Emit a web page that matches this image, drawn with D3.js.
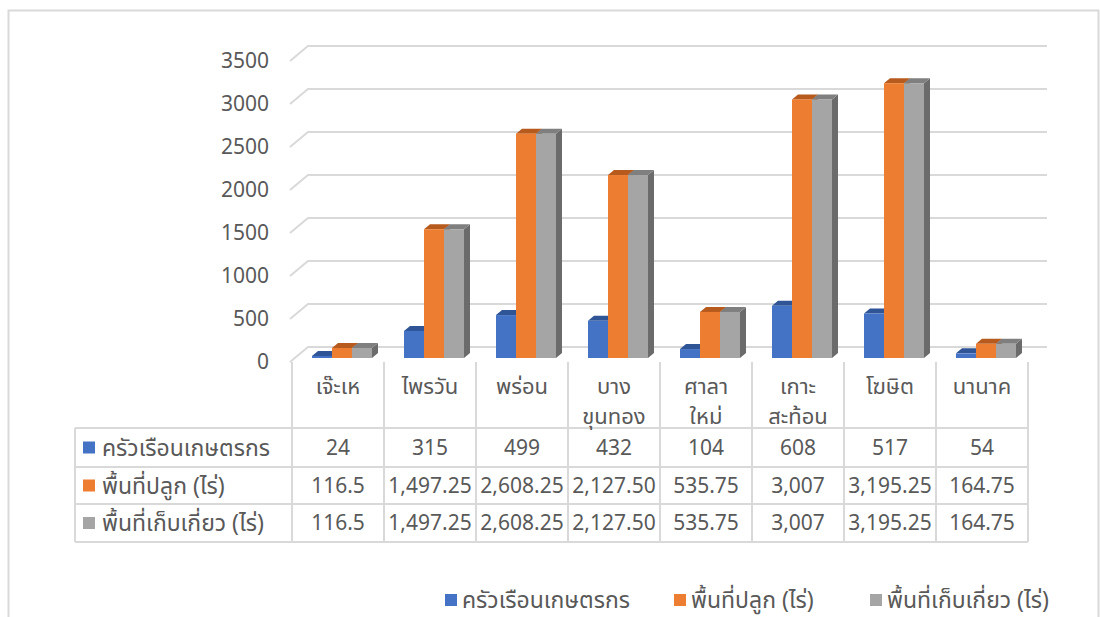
<!DOCTYPE html>
<html>
<head>
<meta charset="utf-8">
<script src="https://cdn.jsdelivr.net/npm/d3@7"></script>
<style>
  body { margin: 0; background: #fff; }
  svg text { font-family: "Noto Sans Thai", "Leelawadee UI", Tahoma, "Noto Sans", sans-serif; fill: #595959; }
</style>
</head>
<body>
<div id="chart"></div>
<script>
// categories (each label may have two lines)
var categories = ["เจ๊ะเห", "ไพรวัน", "พร่อน", "บาง\nขุนทอง", "ศาลา\nใหม่", "เกาะ\nสะท้อน", "โฆษิต", "นานาค"];
var seriesNames = ["ครัวเรือนเกษตรกร", "พื้นที่ปลูก (ไร่)", "พื้นที่เก็บเกี่ยว (ไร่)"];
var households = [24, 315, 499, 432, 104, 608, 517, 54];
var planted = [116.5, 1497.25, 2608.25, 2127.5, 535.75, 3007, 3195.25, 164.75];
var harvested = [116.5, 1497.25, 2608.25, 2127.5, 535.75, 3007, 3195.25, 164.75];
// table cells as they are written in the sheet
var householdsText = ["24", "315", "499", "432", "104", "608", "517", "54"];
var plantedText = ["116.5", "1,497.25", "2,608.25", "2,127.50", "535.75", "3,007", "3,195.25", "164.75"];
var harvestedText = ["116.5", "1,497.25", "2,608.25", "2,127.50", "535.75", "3,007", "3,195.25", "164.75"];
var yTicks = [0, 500, 1000, 1500, 2000, 2500, 3000, 3500];

var colors = ["#4472C4", "#ED7D31", "#A5A5A5"];
var topColors = ["#2F5597", "#B65A1E", "#7F7F7F"];
var sideColors = ["#2A4B87", "#A3501A", "#6B6B6B"];

var width = 1100, height = 617;
var values = [households, planted, harvested];
var texts = [householdsText, plantedText, harvestedText];

var svg = d3.select("#chart").append("svg")
    .attr("width", width)
    .attr("height", height);

// outer frame
svg.append("rect")
    .attr("x", 8.5).attr("y", 10.5)
    .attr("width", 1090).attr("height", 640)
    .attr("fill", "none")
    .attr("stroke", "#D9D9D9")
    .attr("stroke-width", 2);

var x = d3.scaleBand().domain(categories).range([292, 1028]);
var xs = d3.scaleBand().domain([0, 1, 2]).range([16, 76]);
var y = d3.scaleLinear().domain([0, 3500]).range([362, 61]);

// 3d offsets
var wall = {dx: 18, dy: -15},   // back wall
    plane = {dx: 4, dy: -4},    // where the bar front sits
    depth = {dx: 6, dy: -5};    // bar thickness

// gridlines on the back wall with floor/side diagonals
var grid = svg.append("g").attr("class", "grid");
grid.selectAll("path")
  .data(yTicks).enter()
  .append("path")
    .attr("d", function(d) {
      var yy = y(d);
      return "M290," + yy + "L" + (290 + wall.dx) + "," + (yy + wall.dy) + "L1047," + (yy + wall.dy);
    })
    .attr("fill", "none")
    .attr("stroke", "#D9D9D9")
    .attr("stroke-width", 2);

svg.append("g").attr("class", "axis y")
  .selectAll("text")
  .data(yTicks).enter()
  .append("text")
    .attr("x", 269)
    .attr("y", function(d) { return y(d); })
    .attr("dy", "0.35em")
    .attr("text-anchor", "end")
    .style("font-size", "21px")
    .text(function(d) { return d; });

// bars
var bars = [];
categories.forEach(function(c, i) {
  values.forEach(function(s, k) {
    bars.push({cat: c, k: k, value: s[i]});
  });
});

var bar = svg.append("g").attr("class", "bars")
  .selectAll("g")
  .data(bars).enter()
  .append("g");

bar.each(function(d) {
  var g = d3.select(this);
  var x0 = x(d.cat) + xs(d.k) + plane.dx,
      x1 = x0 + xs.bandwidth(),
      yb = y(0) + plane.dy,
      yt = y(d.value) + plane.dy;
  // side face
  g.append("path")
    .attr("d", "M" + x1 + "," + yb + "L" + (x1 + depth.dx) + "," + (yb + depth.dy) +
      "L" + (x1 + depth.dx) + "," + (yt + depth.dy) + "L" + x1 + "," + yt + "Z")
    .attr("fill", sideColors[d.k]);
  // top face
  g.append("path")
    .attr("d", "M" + x0 + "," + yt + "L" + (x0 + depth.dx) + "," + (yt + depth.dy) +
      "L" + (x1 + depth.dx) + "," + (yt + depth.dy) + "L" + x1 + "," + yt + "Z")
    .attr("fill", topColors[d.k]);
  // front face
  g.append("rect")
    .attr("x", x0).attr("y", yt)
    .attr("width", xs.bandwidth())
    .attr("height", yb - yt)
    .attr("fill", colors[d.k]);
});

// data table
var rowY = [428, 467, 504, 542];
var table = svg.append("g").attr("class", "table");
var lineColor = "#D9D9D9";

table.selectAll("line.v")
  .data(categories.map(function(c) { return x(c); }).concat([1028])).enter()
  .append("line")
    .attr("class", "v")
    .attr("x1", function(d) { return d; }).attr("x2", function(d) { return d; })
    .attr("y1", 362).attr("y2", 542)
    .attr("stroke", lineColor).attr("stroke-width", 2);
table.append("line")
    .attr("x1", 75).attr("x2", 75).attr("y1", 428).attr("y2", 542)
    .attr("stroke", lineColor).attr("stroke-width", 2);
table.selectAll("line.h")
  .data(rowY).enter()
  .append("line")
    .attr("class", "h")
    .attr("x1", 75).attr("x2", 1028)
    .attr("y1", function(d) { return d; }).attr("y2", function(d) { return d; })
    .attr("stroke", lineColor).attr("stroke-width", 2);

// category header
table.selectAll("text.cat")
  .data(categories).enter()
  .append("text")
    .attr("class", "cat")
    .attr("text-anchor", "middle")
    .style("font-size", "22px")
    .each(function(d) {
      var lines = d.split("\n");
      var t = d3.select(this);
      lines.forEach(function(l, j) {
        t.append("tspan")
          .attr("x", x(d) + x.bandwidth() / 2)
          .attr("y", 386 + j * 30)
          .attr("dy", "0.35em")
          .text(l);
      });
    });

// rows
values.forEach(function(s, k) {
  var cy = (rowY[k] + rowY[k + 1]) / 2;
  var row = table.append("g").attr("class", "row");
  row.append("rect")
    .attr("x", 83).attr("y", cy - 6)
    .attr("width", 12).attr("height", 12)
    .attr("fill", colors[k]);
  row.append("text")
    .attr("x", 102).attr("y", cy)
    .attr("dy", "0.35em")
    .style("font-size", "23px")
    .text(seriesNames[k]);
  row.selectAll("text.val")
    .data(texts[k]).enter()
    .append("text")
      .attr("class", "val")
      .attr("x", function(d, i) { return x(categories[i]) + x.bandwidth() / 2; })
      .attr("y", cy)
      .attr("dy", "0.35em")
      .attr("text-anchor", "middle")
      .style("font-size", "21px")
      .text(function(d) { return d; });
});

// legend
var legendX = [445, 674, 870];
var legend = svg.append("g").attr("class", "legend")
  .selectAll("g")
  .data(seriesNames).enter()
  .append("g")
    .attr("transform", function(d, i) { return "translate(" + legendX[i] + ",600)"; });
legend.append("rect")
    .attr("x", 0).attr("y", -6)
    .attr("width", 12).attr("height", 12)
    .attr("fill", function(d, i) { return colors[i]; });
legend.append("text")
    .attr("x", 17)
    .attr("dy", "0.35em")
    .style("font-size", "23px")
    .text(function(d) { return d; });
</script>
</body>
</html>
